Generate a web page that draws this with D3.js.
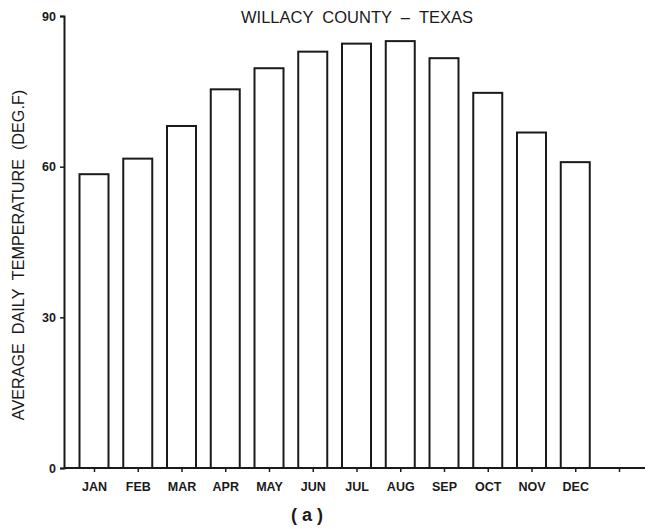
<!DOCTYPE html>
<html>
<head>
<meta charset="utf-8">
<script src="https://cdn.jsdelivr.net/npm/d3@7"></script>
<style>
  html, body { margin: 0; padding: 0; background: #fff; }
  svg { display: block; }
  text { fill: #1a1a1a; }
</style>
</head>
<body>
<svg id="chart" width="648" height="529"></svg>
<script>
// Average daily temperature by month, Willacy County, Texas
const months = ["JAN", "FEB", "MAR", "APR", "MAY", "JUN", "JUL", "AUG", "SEP", "OCT", "NOV", "DEC"];
const temps = [58.5, 61.6, 68.1, 75.4, 79.6, 82.9, 84.5, 85.0, 81.6, 74.7, 66.8, 60.9];
const yTicks = [0, 30, 60, 90];

const svg = d3.select("#chart");
const ink = "#1a1a1a";

const x = d3.scaleLinear().domain([1, 13]).range([94, 619]);
const y = d3.scaleLinear().domain([0, 90]).range([468, 16]);
const barW = 29;

// bars (outlined, unfilled)
svg.append("g").selectAll("rect")
  .data(temps)
  .join("rect")
  .attr("x", (d, i) => x(i + 1) - barW / 2)
  .attr("y", d => y(d))
  .attr("width", barW)
  .attr("height", d => y(0) - y(d))
  .attr("fill", "none")
  .attr("stroke", ink)
  .attr("stroke-width", 2);

// y axis
const yAxis = d3.axisLeft(y).tickValues(yTicks).tickSize(4).tickPadding(4);
const gy = svg.append("g").attr("transform", "translate(64,0)").call(yAxis);
gy.select(".domain").attr("stroke", ink).attr("stroke-width", 2);
gy.selectAll(".tick line").attr("stroke", ink).attr("stroke-width", 1.5);
gy.selectAll(".tick text")
  .attr("font-family", "Liberation Sans, Arial, sans-serif")
  .attr("font-weight", "bold")
  .attr("font-size", 12.5)
  .attr("fill", ink);

// x axis (one extra empty slot after DEC)
const xAxis = d3.axisBottom(x)
  .tickValues(d3.range(1, 14))
  .tickFormat(d => months[d - 1] || "")
  .tickSize(4).tickPadding(10);
const gx = svg.append("g").attr("transform", `translate(0,${y(0)})`).call(xAxis);
gx.select(".domain").attr("d", "M64,0H645").attr("stroke", ink).attr("stroke-width", 2);
gx.selectAll(".tick line").attr("stroke", ink).attr("stroke-width", 1.5);
gx.selectAll(".tick text")
  .attr("font-family", "Liberation Sans Narrow, Liberation Sans, Arial, sans-serif")
  .attr("font-weight", "bold")
  .attr("font-size", 12.5)
  .attr("fill", ink);

// title
svg.append("text")
  .attr("x", 357).attr("y", 23)
  .attr("text-anchor", "middle")
  .attr("font-family", "Liberation Sans, Arial, sans-serif")
  .attr("font-size", 16.5)
  .style("white-space", "pre")
  .text("WILLACY  COUNTY  –  TEXAS");

// y axis title
svg.append("text")
  .attr("transform", "translate(24,255) rotate(-90)")
  .attr("text-anchor", "middle")
  .attr("font-family", "Liberation Sans, Arial, sans-serif")
  .attr("font-size", 16.2)
  .style("white-space", "pre")
  .text("AVERAGE  DAILY  TEMPERATURE  (DEG.F)");

// panel label
svg.append("text")
  .attr("x", 307).attr("y", 521)
  .attr("text-anchor", "middle")
  .attr("font-family", "Liberation Sans, Arial, sans-serif")
  .attr("font-weight", "bold")
  .attr("font-size", 18)
  .style("white-space", "pre")
  .text("( a )");
</script>
</body>
</html>
